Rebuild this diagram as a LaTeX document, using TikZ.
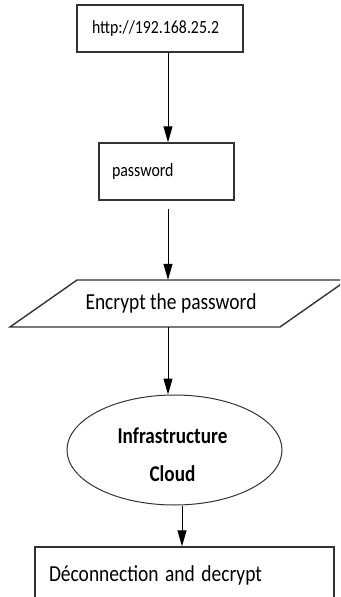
\documentclass[tikz,border=0pt]{standalone}
\usepackage{graphicx}
\usepackage{fontspec}
\setmainfont{Carlito}
\usetikzlibrary{arrows.meta,shapes.geometric}

% narrow, tall lettering as in the scan
\newcommand{\squeeze}[1]{\scalebox{0.85}[1]{#1}}

\begin{document}
\begin{tikzpicture}[x=1pt,y=1pt,
        outline/.style={draw=black!80, line width=1.4pt},
        box/.style={outline, rectangle, inner sep=0pt, align=left},
        flow/.style={draw=black, line width=1pt, -{Triangle[length=16pt,width=9pt]}}]
        % Frame
        \clip (0,0) rectangle (340,-597);

        % Steps
        \node[box, minimum width=166pt, minimum height=47pt, text width=136pt,
              font=\fontsize{18.6}{22}\selectfont] (url) at (160,-28.5) {\squeeze{http://192.168.25.2}};
        \node[box, minimum width=135pt, minimum height=57pt, text width=109pt,
              font=\fontsize{18.7}{22}\selectfont] (pass) at (166.5,-171.5) {\squeeze{password}};

        % Encryption (parallelogram)
        \draw[outline] (10,-327) -- (77,-280) -- (347,-280) -- (280,-327) -- cycle;
        \node[minimum height=47pt, inner sep=0pt, font=\fontsize{22.9}{27}\selectfont] (encrypt) at (171,-303.5) {\squeeze{Encrypt the password}};

        % Cloud
        \node[draw=black!80, line width=1pt, ellipse, minimum width=215pt, minimum height=110pt, inner sep=0pt] (cloud) at (174.5,-450) {};
        \node[align=center, inner sep=0pt, font=\bfseries\fontsize{22.6}{38}\selectfont] (cloudtext) at (172.5,-455) {\squeeze{Infrastructure}\\\squeeze{Cloud}};

        % Last step
        \node[box, minimum width=299pt, minimum height=56pt, text width=271pt,
              font=\fontsize{22.9}{27}\selectfont] (logout) at (184.5,-575) {\squeeze{Déconnection and decrypt}};

        % Connectors
        \coordinate (spine) at (168,0);
        \coordinate (tail) at (182,0);
        \draw[flow] (url.south -| spine) -- (pass.north -| spine);
        \draw[flow, shorten <=8pt] (pass.south -| spine) -- (encrypt.north -| spine);
        \draw[flow] (encrypt.south -| spine) -- (cloud.north -| spine);
        \draw[flow] (cloud.south -| tail) -- (logout.north -| tail);
\end{tikzpicture}
\end{document}
